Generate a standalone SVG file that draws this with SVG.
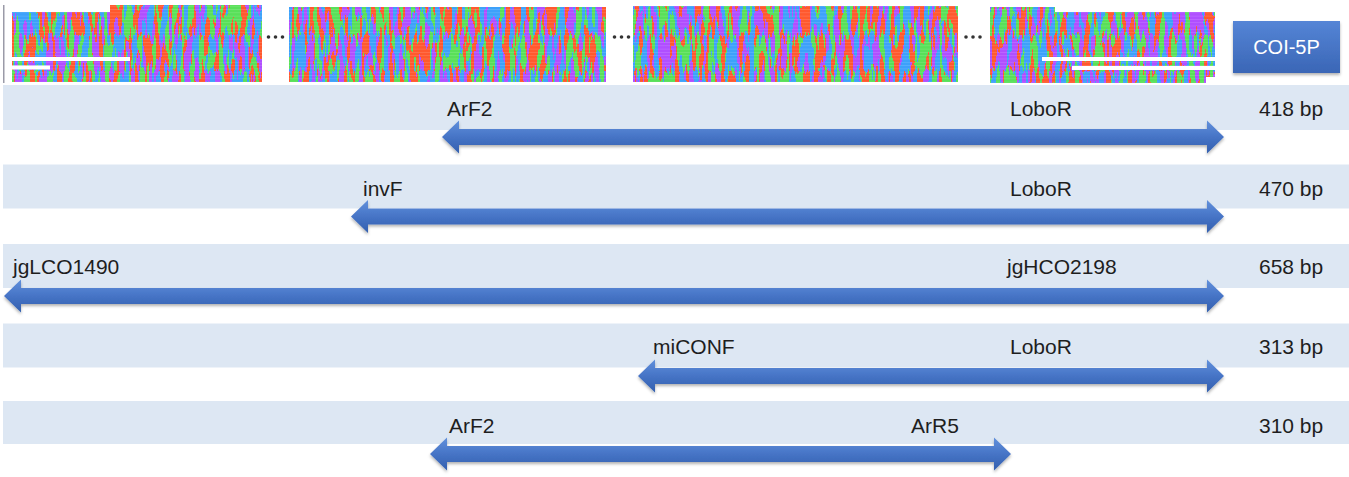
<svg xmlns="http://www.w3.org/2000/svg" width="1349" height="477" viewBox="0 0 1349 477">
<style>
  .band { fill: #dde7f3; }
  .lbl { font-family: "Liberation Sans", Arial, sans-serif; font-size: 21px; fill: #1e1e1e; }
  .arrow { fill: url(#ag); filter: url(#shadow); }
  .msa { filter: url(#msaf); fill: #000; }
  .gap { fill: #ffffff; }
  .dot { fill: #333; }
</style>
<defs>
  <linearGradient id="ag" x1="0" y1="0" x2="0" y2="1">
    <stop offset="0" stop-color="#6190dc"/>
    <stop offset="0.5" stop-color="#4674c6"/>
    <stop offset="1" stop-color="#335fae"/>
  </linearGradient>
  <linearGradient id="bg" x1="0" y1="0" x2="0" y2="1">
    <stop offset="0" stop-color="#5585d6"/>
    <stop offset="1" stop-color="#3a66b6"/>
  </linearGradient>
  <filter id="shadow" x="-5%" y="-30%" width="110%" height="170%">
    <feDropShadow dx="0" dy="2" stdDeviation="1.5" flood-color="#000" flood-opacity="0.3"/>
  </filter>
  <filter id="msaf" x="0" y="0" width="1" height="1" color-interpolation-filters="sRGB">
    <feTurbulence type="fractalNoise" baseFrequency="0.2 0.028" numOctaves="2" seed="11" result="n"/>
    <feComponentTransfer in="n" result="b">
      <feFuncR type="discrete" tableValues="0 1"/>
      <feFuncG type="discrete" tableValues="0 1"/>
      <feFuncB type="linear" slope="0" intercept="0"/>
      <feFuncA type="linear" slope="0" intercept="1"/>
    </feComponentTransfer>
    <feColorMatrix in="b" type="matrix" values="1 0 0 0 0  1 0 0 0 0  1 0 0 0 0  0 0 0 0 1" result="X"/>
    <feColorMatrix in="b" type="matrix" values="0 1 0 0 0  0 1 0 0 0  0 1 0 0 0  0 0 0 0 1" result="Y"/>
    <feComposite in="X" in2="Y" operator="arithmetic" k1="1" k2="0" k3="0" k4="0" result="XY"/>
    <feColorMatrix in="XY" type="matrix" values="0 0 0 0 0  0 0 0 0 0  1 0 0 0 0  0 0 0 0 1" result="Z"/>
    <feComposite in="b" in2="Z" operator="arithmetic" k1="0" k2="1" k3="1" k4="0" result="S"/>
    <feColorMatrix in="S" type="matrix" values="-0.65 -0.31 0.20 0 1  0.53 -0.04 -0.21 0 0.35  0.17 0.82 -0.19 0 0.18  0 0 0 0 1" result="c"/>
    <feComposite in="c" in2="SourceGraphic" operator="in"/>
  </filter>
  <pattern id="grid" width="3.2" height="3.3" patternUnits="userSpaceOnUse">
    <rect x="0" y="2.7" width="3.2" height="0.6" fill="#ffffff" opacity="0.2"/>
  </pattern>
</defs>

<rect width="1349" height="477" fill="#ffffff"/>

<!-- bands -->
<g id="bands">
  <rect class="band" x="3" y="85" width="1346" height="45"/>
  <rect class="band" x="3" y="164.5" width="1346" height="44"/>
  <rect class="band" x="3" y="244" width="1346" height="44"/>
  <rect class="band" x="3" y="323.5" width="1346" height="44"/>
  <rect class="band" x="3" y="401" width="1346" height="43"/>
</g>

<!-- alignment blocks -->
<g id="alignment">
  <rect x="3" y="5" width="1.5" height="78" fill="#9b9ba8"/>
  <path class="msa" d="M12 12 H110 V5 H262 V82 H12 Z"/>
  <rect class="msa" x="289" y="7" width="317" height="75"/>
  <rect class="msa" x="633" y="6" width="325" height="76"/>
  <path class="msa" d="M990 7 H1055 V12 H1215 V83 H990 Z"/>
  <g fill="url(#grid)">
    <path d="M12 12 H110 V5 H262 V82 H12 Z"/>
    <rect x="289" y="7" width="317" height="75"/>
    <rect x="633" y="6" width="325" height="76"/>
    <path d="M990 7 H1055 V12 H1215 V83 H990 Z"/>
  </g>
  <rect class="gap" x="12" y="57" width="118" height="4"/>
  <rect class="gap" x="12" y="65.5" width="38" height="4"/>
  <rect class="gap" x="1042" y="57" width="173" height="4"/>
  <rect class="gap" x="1072" y="66" width="143" height="4"/>
  <rect class="gap" x="1206" y="77" width="9" height="6"/>
  <g id="ellipses">
    <circle class="dot" cx="268.5" cy="37" r="1.8"/>
    <circle class="dot" cx="275.5" cy="37" r="1.8"/>
    <circle class="dot" cx="282.5" cy="37" r="1.8"/>
    <circle class="dot" cx="614.5" cy="37" r="1.8"/>
    <circle class="dot" cx="621.5" cy="37" r="1.8"/>
    <circle class="dot" cx="628.5" cy="37" r="1.8"/>
    <circle class="dot" cx="966" cy="37" r="1.8"/>
    <circle class="dot" cx="973" cy="37" r="1.8"/>
    <circle class="dot" cx="980" cy="37" r="1.8"/>
  </g>
</g>

<!-- COI-5P button -->
<g id="coi5p">
  <rect x="1233" y="21" width="107" height="52" fill="url(#bg)" filter="url(#shadow)"/>
  <text x="1286.5" y="54" text-anchor="middle" font-family="Liberation Sans, Arial, sans-serif" font-size="20" fill="#ffffff">COI-5P</text>
</g>

<!-- connectors (amplicon arrows) -->
<g id="connectors">
  <path class="arrow" d="M442 137 L459 120.5 L459 129 L1207 129 L1207 120.5 L1224 137 L1207 153.5 L1207 145 L459 145 L459 153.5 Z"/>
  <path class="arrow" d="M351 216.5 L368 200 L368 208.5 L1207 208.5 L1207 200 L1224 216.5 L1207 233 L1207 224.5 L368 224.5 L368 233 Z"/>
  <path class="arrow" d="M4 296 L21 279.5 L21 288 L1207 288 L1207 279.5 L1224 296 L1207 312.5 L1207 304 L21 304 L21 312.5 Z"/>
  <path class="arrow" d="M638 376 L655 359.5 L655 368 L1207 368 L1207 359.5 L1224 376 L1207 392.5 L1207 384 L655 384 L655 392.5 Z"/>
  <path class="arrow" d="M430 454 L447 437.5 L447 446 L994 446 L994 437.5 L1011 454 L994 470.5 L994 462 L447 462 L447 470.5 Z"/>
</g>

<!-- primer labels and sizes -->
<g id="row1">
  <text class="lbl" x="447" y="116">ArF2</text>
  <text class="lbl" x="1010" y="116">LoboR</text>
  <text class="lbl" x="1259" y="116">418 bp</text>
</g>
<g id="row2">
  <text class="lbl" x="363" y="195.5">invF</text>
  <text class="lbl" x="1010" y="195.5">LoboR</text>
  <text class="lbl" x="1259" y="195.5">470 bp</text>
</g>
<g id="row3">
  <text class="lbl" x="13" y="274">jgLCO1490</text>
  <text class="lbl" x="1007" y="274">jgHCO2198</text>
  <text class="lbl" x="1259" y="274">658 bp</text>
</g>
<g id="row4">
  <text class="lbl" x="653" y="354">miCONF</text>
  <text class="lbl" x="1010" y="354">LoboR</text>
  <text class="lbl" x="1259" y="354">313 bp</text>
</g>
<g id="row5">
  <text class="lbl" x="449" y="433">ArF2</text>
  <text class="lbl" x="911" y="433">ArR5</text>
  <text class="lbl" x="1259" y="433">310 bp</text>
</g>
</svg>
